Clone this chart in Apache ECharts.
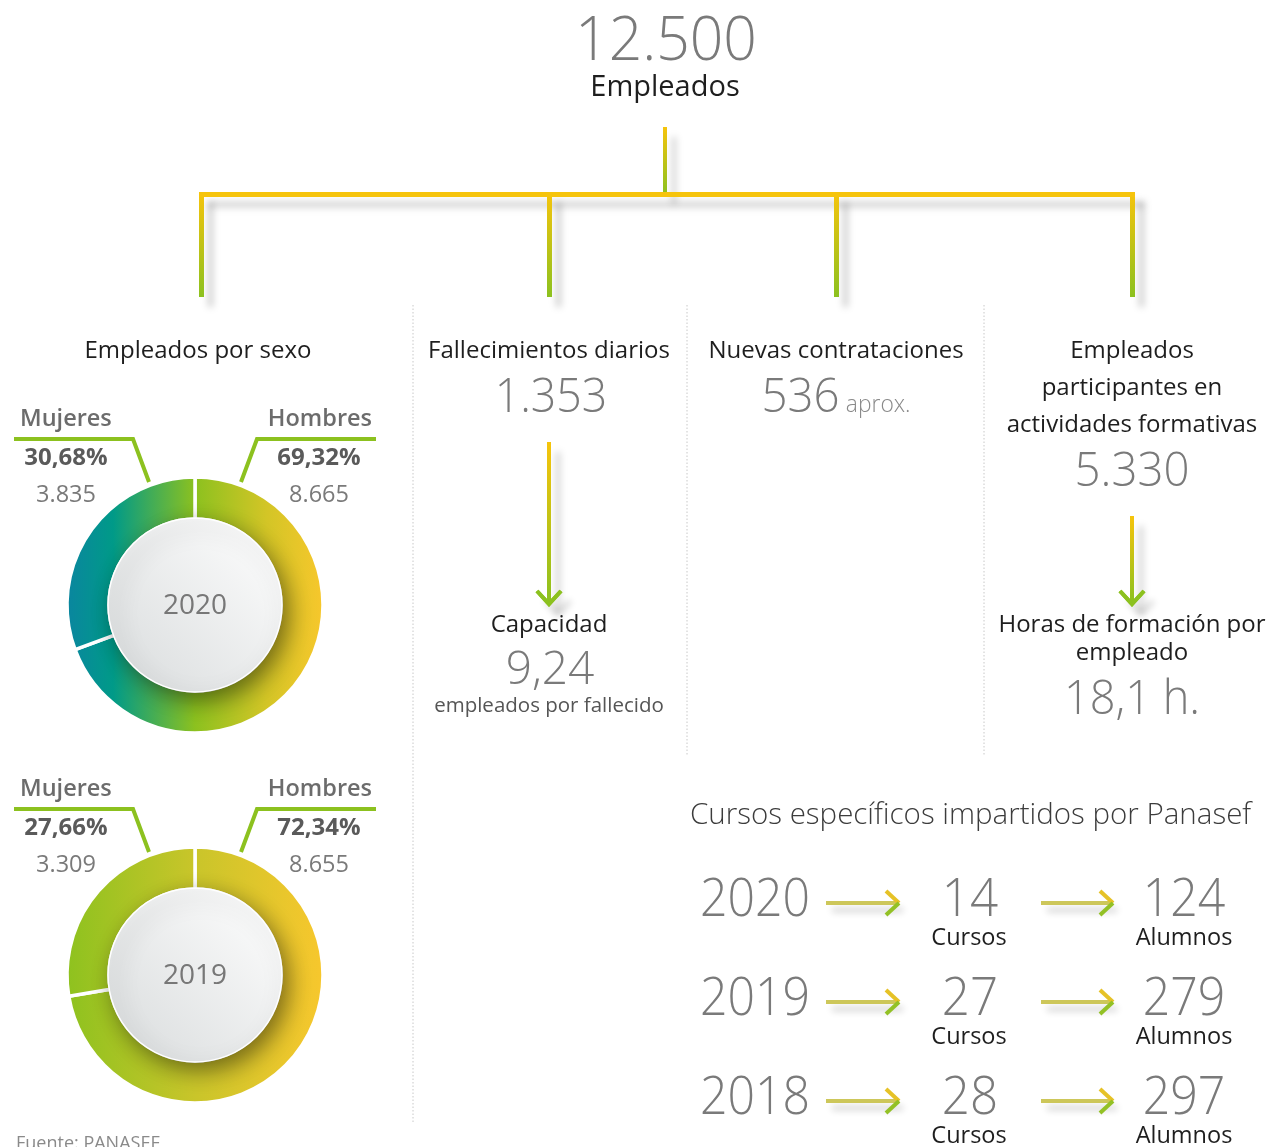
<!DOCTYPE html>
<html>
<head>
<meta charset="utf-8">
<script src="https://cdn.jsdelivr.net/npm/echarts@6/dist/echarts.min.js"></script>
<style>
html, body { margin: 0; padding: 0; background: #fff; }
#chart { width: 1271px; height: 1147px; }
</style>
</head>
<body>
<div id="chart"></div>
<script>
// datos
const totalEmpleados = '12.500';
const sexYears = ['2020', '2019'];
const mujeres = [3835, 3309];
const hombres = [8665, 8655];
const mujeresPct = ['30,68%', '27,66%'];
const hombresPct = ['69,32%', '72,34%'];
const mujeresTxt = ['3.835', '3.309'];
const hombresTxt = ['8.665', '8.655'];
const fallecimientos = '1.353';
const capacidad = '9,24';
const contrataciones = '536';
const participantes = '5.330';
const horasFormacion = '18,1 h.';
const cursoYears = ['2020', '2019', '2018'];
const cursos = ['14', '27', '28'];
const alumnos = ['124', '279', '297'];

const FONT = '"Open Sans", "Noto Sans", sans-serif';
const YELLOW = '#f6c40c';
const GREEN = '#8cc11f';

const chart = echarts.init(document.getElementById('chart'));

function txt(x, y, text, size, color, weight, align, sx) {
    align = align || 'center';
    return {
        type: 'text', x: x, y: y + 1.5, z: 30, silent: true, scaleX: sx || 1,
        style: {
            text: text, fill: color,
            font: (weight || 400) + ' ' + size + 'px ' + FONT,
            textAlign: align, textVerticalAlign: 'middle',
            align: align, verticalAlign: 'middle'
        }
    };
}

function vGrad() {
    return new echarts.graphic.LinearGradient(0, 0, 0, 1, [
        { offset: 0, color: YELLOW },
        { offset: 1, color: GREEN }
    ]);
}

const shadowStyle = {
    shadowBlur: 7, shadowOffsetX: 9, shadowOffsetY: 10,
    shadowColor: 'rgba(0,0,0,0.2)'
};

const graphic = [];

// rect con sombra debajo y copia limpia encima
function bar(x, y, w, h, fill) {
    graphic.push({ type: 'rect', z: 5, silent: true, shape: { x: x, y: y, width: w, height: h },
        style: Object.assign({ fill: fill }, shadowStyle) });
    graphic.push({ type: 'rect', z: 6, silent: true, shape: { x: x, y: y, width: w, height: h },
        style: { fill: fill } });
}

function seg(points, color, z) {
    graphic.push({ type: 'polyline', z: z || 7, silent: true, shape: { points: points },
        style: { stroke: color, lineWidth: 4, lineCap: 'butt', lineJoin: 'miter', fill: null } });
}

// flecha vertical
function downArrow(x, y1, y2) {
    graphic.push({ type: 'rect', z: 5, silent: true, shape: { x: x - 2, y: y1, width: 4, height: y2 - y1 - 4 },
        style: Object.assign({ fill: vGrad() }, shadowStyle) });
    graphic.push({ type: 'polyline', z: 5, silent: true,
        shape: { points: [[x - 12, y2 - 15], [x, y2 - 2], [x + 12, y2 - 15]] },
        style: Object.assign({ stroke: GREEN, lineWidth: 4, fill: null }, shadowStyle) });
    graphic.push({ type: 'rect', z: 6, silent: true, shape: { x: x - 2, y: y1, width: 4, height: y2 - y1 - 4 },
        style: { fill: vGrad() } });
    seg([[x - 12, y2 - 15], [x, y2 - 2], [x + 12, y2 - 15]], GREEN);
}

// flecha horizontal
function rightArrow(x1, x2, y) {
    graphic.push({ type: 'line', z: 5, silent: true, shape: { x1: x1, y1: y, x2: x2 - 2, y2: y },
        style: Object.assign({ stroke: '#cdc75a', lineWidth: 4 }, shadowStyle, { shadowOffsetX: 6, shadowOffsetY: 7 }) });
    seg([[x2 - 13, y - 12], [x2, y]], '#e6c227');
    seg([[x2, y], [x2 - 13, y + 12]], '#93c126');
}

// arbol
bar(663, 127, 4, 67, vGrad());
bar(199, 192, 936, 5, YELLOW);
[199, 547, 834, 1130].forEach(function (x) {
    bar(x, 192, 5, 105, vGrad());
});
// redibujar horizontal encima
graphic.push({ type: 'rect', z: 7, silent: true, shape: { x: 199, y: 192, width: 936, height: 5 }, style: { fill: YELLOW } });

// separadores punteados
[[413, 305, 1122], [687, 305, 755], [984, 305, 755]].forEach(function (s) {
    graphic.push({ type: 'line', z: 3, silent: true, shape: { x1: s[0], y1: s[1], x2: s[0], y2: s[2] },
        style: { stroke: '#c8c8c8', lineWidth: 1, lineDash: [1.5, 2] } });
});

// cabecera
graphic.push(txt(666, 41, totalEmpleados, 60, '#7a7a7a', 300, 'center', 0.98));
graphic.push(txt(665, 86, 'Empleados', 29, '#1e1e1e', 400));

// columna 1
graphic.push(txt(198, 350, 'Empleados por sexo', 24, '#1e1e1e', 400));

const donutCY = [605, 975];
const donutStops = [
    [
        { offset: 0, color: '#0a869f' },
        { offset: 0.18, color: '#009a88' },
        { offset: 0.5, color: '#8cc11f' },
        { offset: 0.78, color: '#d3c526' },
        { offset: 1, color: '#f7c72c' }
    ],
    [
        { offset: 0, color: '#8ec21f' },
        { offset: 0.5, color: '#c9c52a' },
        { offset: 1, color: '#f7c72d' }
    ]
];

const series = sexYears.map(function (year, i) {
    const cy = donutCY[i];
    // circulo interior
    graphic.push({ type: 'circle', z: 10, silent: true, shape: { cx: 195, cy: cy, r: 87 },
        style: {
            fill: new echarts.graphic.LinearGradient(1, 0, 0, 1, [
                { offset: 0, color: '#ffffff' }, { offset: 1, color: '#d8dbdc' }
            ]),
            stroke: '#ffffff', lineWidth: 1.5,
            shadowBlur: 22, shadowOffsetX: 6, shadowOffsetY: 8, shadowColor: 'rgba(0,0,0,0.45)'
        } });
    graphic.push(txt(195, cy, year, 28, '#777777', 400));

    const ty = cy - 187;
    graphic.push(txt(20, ty, 'Mujeres', 23.5, '#6c6c6c', 600, 'left'));
    graphic.push(txt(372, ty, 'Hombres', 23.5, '#6c6c6c', 600, 'right'));
    seg([[14, ty + 21], [133, ty + 21], [149, ty + 64]], GREEN);
    seg([[376, ty + 21], [257, ty + 21], [241, ty + 64]], GREEN);
    graphic.push(txt(66, ty + 39, mujeresPct[i], 24, '#5a5a5a', 700));
    graphic.push(txt(319, ty + 39, hombresPct[i], 24, '#5a5a5a', 700));
    graphic.push(txt(66, ty + 76, mujeresTxt[i], 23.5, '#7a7a7a', 400));
    graphic.push(txt(319, ty + 76, hombresTxt[i], 23.5, '#7a7a7a', 400));

    return {
        type: 'pie',
        silent: true,
        center: [195, cy],
        radius: [86, 128],
        startAngle: 90,
        clockwise: true,
        animation: false,
        label: { show: false },
        labelLine: { show: false },
        itemStyle: {
            borderColor: '#ffffff',
            borderWidth: 3.5,
            color: new echarts.graphic.LinearGradient(67, 0, 323, 0, donutStops[i], true)
        },
        data: [
            { name: 'Hombres', value: hombres[i] },
            { name: 'Mujeres', value: mujeres[i] }
        ]
    };
});

graphic.push(txt(16, 1142, 'Fuente: PANASEF', 18, '#8a8a8a', 400, 'left'));

// columna 2
graphic.push(txt(549, 350, 'Fallecimientos diarios', 24, '#1e1e1e', 400));
graphic.push(txt(551, 397, fallecimientos, 48, '#7a7a7a', 300, 'center', 0.93));
downArrow(549, 442, 606);
graphic.push(txt(549, 624, 'Capacidad', 24, '#1e1e1e', 400));
graphic.push(txt(550, 669, capacidad, 46, '#7a7a7a', 300));
graphic.push(txt(549, 705, 'empleados por fallecido', 20.5, '#555555', 400));

// columna 3
graphic.push({
    type: 'text', x: 836, y: 398.5, z: 30, silent: true, scaleX: 0.95,
    style: {
        text: '{a|' + contrataciones + '}  {b|aprox.}',
        textAlign: 'center', textVerticalAlign: 'middle', align: 'center', verticalAlign: 'middle',
        rich: {
            a: { fontFamily: FONT, fontWeight: 300, fontSize: 48, fill: '#7a7a7a', color: '#7a7a7a' },
            b: { fontFamily: FONT, fontWeight: 300, fontSize: 24, fill: '#8a8a8a', color: '#8a8a8a', padding: [14, 0, 0, 0] }
        }
    }
});
graphic.push(txt(836, 350, 'Nuevas contrataciones', 24, '#1e1e1e', 400));

// columna 4
graphic.push(txt(1132, 350, 'Empleados', 24, '#1e1e1e', 400));
graphic.push(txt(1132, 387, 'participantes en', 24, '#1e1e1e', 400));
graphic.push(txt(1132, 424, 'actividades formativas', 24, '#1e1e1e', 400));
graphic.push(txt(1132, 471, participantes, 48, '#7a7a7a', 300, 'center', 0.95));
downArrow(1132, 516, 606);
graphic.push(txt(1132, 624, 'Horas de formación por', 24, '#1e1e1e', 400));
graphic.push(txt(1132, 652, 'empleado', 24, '#1e1e1e', 400));
graphic.push(txt(1132, 699, horasFormacion, 48, '#7a7a7a', 300, 'center', 0.94));

// cursos
graphic.push(txt(690, 814, 'Cursos específicos impartidos por Panasef', 29.5, '#3c3c3c', 300, 'left'));
cursoYears.forEach(function (y, i) {
    const cy = 899 + i * 99;
    graphic.push(txt(755, cy, y, 53, '#7a7a7a', 300, 'center', 0.91));
    rightArrow(826, 899, cy + 4);
    graphic.push(txt(970, cy, cursos[i], 53, '#7a7a7a', 300, 'center', 0.93));
    graphic.push(txt(969, cy + 38, 'Cursos', 23.5, '#1e1e1e', 400));
    rightArrow(1041, 1113, cy + 4);
    graphic.push(txt(1184, cy, alumnos[i], 53, '#7a7a7a', 300, 'center', 0.91));
    graphic.push(txt(1184, cy + 38, 'Alumnos', 23.5, '#1e1e1e', 400));
});

chart.setOption({
    backgroundColor: '#ffffff',
    animation: false,
    series: series,
    graphic: { elements: graphic }
});
</script>
</body>
</html>
